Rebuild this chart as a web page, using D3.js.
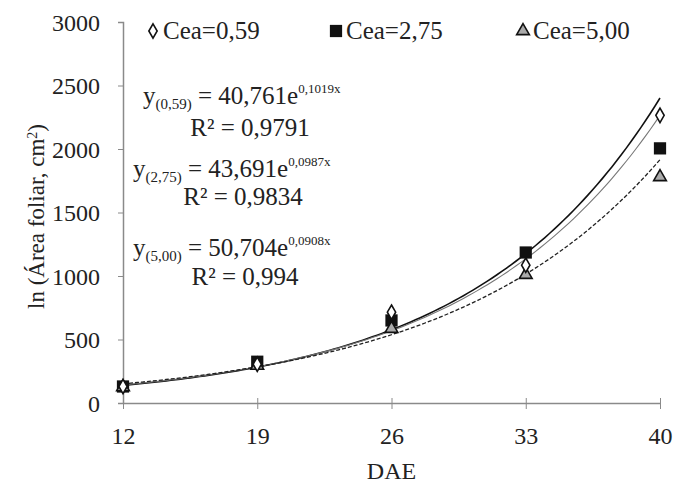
<!DOCTYPE html>
<html>
<head>
<meta charset="utf-8">
<script src="https://cdn.jsdelivr.net/npm/d3@7"></script>
<style>
  body { margin: 0; background: #fff; }
</style>
</head>
<body>
<div id="chart"></div>
<script>
// data
const dae = [12, 19, 26, 33, 40];
const cea059 = [130, 305, 715, 1085, 2265];
const cea275 = [130, 325, 650, 1185, 2005];
const cea500 = [125, 295, 585, 1010, 1780];
const seriesNames = ["Cea=0,59", "Cea=2,75", "Cea=5,00"];
// trend equations printed on the chart: y = a e^(b x)
const trendA = [40.761, 43.691, 50.704];
const trendB = [0.1019, 0.0987, 0.0908];
const trendLabels = ["0,59", "2,75", "5,00"];
const trendAText = ["40,761", "43,691", "50,704"];
const trendBText = ["0,1019x", "0,0987x", "0,0908x"];
const r2Text = ["R² = 0,9791", "R² = 0,9834", "R² = 0,994"];
const yTicks = [0, 500, 1000, 1500, 2000, 2500, 3000];

const width = 676;
const height = 486;
const margin = { top: 22, right: 16, bottom: 83, left: 123 };
const font = "Liberation Serif";

const svg = d3.select("#chart")
    .append("svg")
    .attr("width", width)
    .attr("height", height);

const x = d3.scaleLinear()
    .domain([12, 40])
    .range([margin.left, width - margin.right]);

const y = d3.scaleLinear()
    .domain([0, 3000])
    .range([height - margin.bottom, margin.top]);

// y axis
const yAxis = svg.append("g")
    .attr("transform", "translate(" + margin.left + ",0)")
    .call(d3.axisLeft(y).tickValues(yTicks).tickFormat(d3.format("d")).tickSize(5).tickPadding(18));
yAxis.attr("font-family", font).attr("font-size", 24);
yAxis.select(".domain").attr("stroke", "#8a8a8a").attr("stroke-width", 1.5);
yAxis.selectAll(".tick line").attr("stroke", "#8a8a8a");
yAxis.selectAll(".tick text")
    .attr("fill", "#222")
    .attr("font-family", font)
    .attr("dy", "0.35em");

// x axis
const xAxis = svg.append("g")
    .attr("transform", "translate(0," + y(0) + ")")
    .call(d3.axisBottom(x).tickValues(dae).tickSizeOuter(0).tickSizeInner(6).tickPadding(18));
xAxis.attr("font-family", font).attr("font-size", 24);
xAxis.select(".domain").attr("stroke", "#8a8a8a").attr("stroke-width", 1.5);
xAxis.selectAll(".tick line").attr("stroke", "#8a8a8a").attr("y1", -5);
xAxis.selectAll(".tick text")
    .attr("fill", "#222")
    .attr("font-family", font);

// axis titles
svg.append("text")
    .attr("transform", "translate(44," + (y(1500) + 4) + ") rotate(-90)")
    .attr("text-anchor", "middle")
    .attr("fill", "#222")
    .attr("font-family", font)
    .attr("font-size", 23)
    .call(t => {
        t.append("tspan").text("ln (Área foliar, cm");
        t.append("tspan").attr("baseline-shift", "super").attr("font-size", 14).text("2");
        t.append("tspan").text(")");
    });

svg.append("text")
    .attr("x", x(26))
    .attr("y", 479)
    .attr("text-anchor", "middle")
    .attr("fill", "#222")
    .attr("font-family", font)
    .attr("font-size", 24)
    .text("DAE");

// trend curves
const lineStyles = [
    { stroke: "#111", width: 1.6, dash: null },
    { stroke: "#777", width: 1.1, dash: null },
    { stroke: "#222", width: 1.3, dash: "4,2" }
];
const xs = d3.range(12, 40.01, 0.25);
trendA.forEach((a, i) => {
    const curve = d3.line()
        .x(d => x(d))
        .y(d => y(a * Math.exp(trendB[i] * d)));
    svg.append("path")
        .attr("d", curve(xs))
        .attr("fill", "none")
        .attr("stroke", lineStyles[i].stroke)
        .attr("stroke-width", lineStyles[i].width)
        .attr("stroke-dasharray", lineStyles[i].dash);
});

// markers
const diamond = d3.symbol().type(d3.symbolDiamond).size(60);
const square = d3.symbol().type(d3.symbolSquare).size(150);
const triangle = d3.symbol().type(d3.symbolTriangle).size(70);

function drawMarker(g, i) {
    if (i === 0) {
        g.append("path").attr("d", diamond).attr("fill", "#fff").attr("stroke", "#111").attr("stroke-width", 1.6);
    } else if (i === 1) {
        g.append("path").attr("d", square).attr("fill", "#111");
    } else {
        g.append("path").attr("d", triangle).attr("fill", "#aaa").attr("stroke", "#111").attr("stroke-width", 1.6);
    }
}

// draw order: squares, then triangles, then diamonds on top
[[1, cea275], [2, cea500], [0, cea059]].forEach(([i, vals]) => {
    dae.forEach((d, k) => {
        const g = svg.append("g")
            .attr("transform", "translate(" + x(d) + "," + y(vals[k]) + ")");
        drawMarker(g, i);
    });
});

// legend
const legendX = [153, 336, 523];
seriesNames.forEach((name, i) => {
    const g = svg.append("g").attr("transform", "translate(" + legendX[i] + ",31)");
    drawMarker(g, i);
    g.append("text")
        .attr("x", 10)
        .attr("y", 8)
        .attr("fill", "#222")
        .attr("font-family", font)
        .attr("font-size", 25)
        .text(name);
});

// equations
const eqX = [143, 133, 133];
const eqY = [104, 177, 256];
const r2X = [250, 243, 245];
const r2Y = [136, 205, 285];
trendA.forEach((a, i) => {
    const t = svg.append("text")
        .attr("x", eqX[i])
        .attr("y", eqY[i])
        .attr("fill", "#222")
        .attr("font-family", font)
        .attr("font-size", 25);
    t.append("tspan").text("y");
    t.append("tspan").attr("dy", 5).attr("font-size", 15).text("(" + trendLabels[i] + ")");
    t.append("tspan").attr("dy", -5).text(" = " + trendAText[i] + "e");
    t.append("tspan").attr("dy", -11).attr("font-size", 13).text(trendBText[i]);

    svg.append("text")
        .attr("x", r2X[i])
        .attr("y", r2Y[i])
        .attr("text-anchor", "middle")
        .attr("fill", "#222")
        .attr("font-family", font)
        .attr("font-size", 25)
        .text(r2Text[i]);
});
</script>
</body>
</html>
